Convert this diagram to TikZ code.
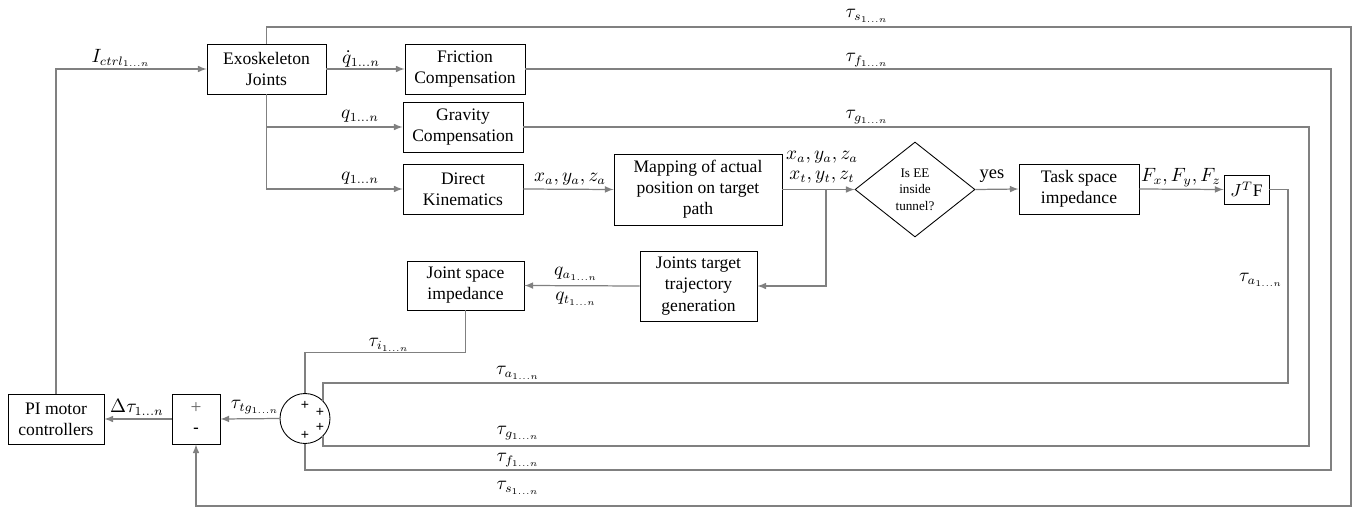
\documentclass[tikz,border=0pt]{standalone}
\usepackage{fontspec}
\setmainfont{Liberation Serif}
\setsansfont{Liberation Sans}
\usetikzlibrary{shapes.geometric}
\tikzset{
  blk/.style={draw, line width=0.5pt, align=center, inner sep=1pt, font=\fontsize{10}{12}\selectfont},
  conn/.style={draw=gray, line width=0.7pt},
  lbl/.style={inner sep=0pt, align=center, font=\fontsize{10.5}{12}\selectfont},
  sgn/.style={inner sep=0pt, font=\sffamily\fontsize{8}{8}\selectfont}
}
\begin{document}
\begin{tikzpicture}[x=0.02cm,y=-0.02cm,>=latex]
\useasboundingbox (0,0) rectangle (1356,507);
\node[blk,minimum width=2.38cm,minimum height=1cm] (exo) at (266.5,69) {Exoskeleton\\Joints};
\node[blk,minimum width=2.4cm,minimum height=1cm] (fric) at (465,69) {Friction\\Compensation};
\node[blk,minimum width=2.4cm,minimum height=1cm] (grav) at (463,127) {Gravity\\Compensation};
\node[blk,minimum width=2.4cm,minimum height=1cm] (dk) at (463,189) {Direct\\Kinematics};
\node[blk,minimum width=3.36cm,minimum height=1.42cm] (map) at (698,189.5) {Mapping of actual\\position on target\\path};
\node[draw,diamond,line width=0.5pt,inner sep=0pt,minimum width=2.4cm,minimum height=1.9cm,align=center,font=\fontsize{7.5}{9.5}\selectfont] (dec) at (915,189.5) {Is EE\\inside\\tunnel?};
\node[blk,minimum width=2.4cm,minimum height=1cm] (task) at (1079,189) {Task space\\impedance};
\node[blk,minimum width=0.9cm,minimum height=0.58cm] (jtf) at (1246.5,189.5) {$J^T$F};
\node[blk,minimum width=2.34cm,minimum height=1.4cm] (jtt) at (698.5,286) {Joints target\\trajectory\\generation};
\node[blk,minimum width=2.34cm,minimum height=0.98cm] (jsi) at (465.5,285.5) {Joint space\\impedance};
\node[draw,circle,line width=0.5pt,minimum size=1cm,inner sep=0pt] (sum) at (305,418.5) {};
\node[blk,minimum width=0.96cm,minimum height=1cm] (sub) at (196,419) {};
\node[blk,minimum width=1.92cm,minimum height=1cm] (pi) at (56,419) {PI motor\\controllers};
\node[sgn] (s1) at (305,405) {+};
\node[sgn] (s2) at (320,412) {+};
\node[sgn] (s3) at (320,427) {+};
\node[sgn] (s4) at (305,435) {+};
\node[inner sep=0pt,text=gray!80!black,font=\fontsize{11}{11}\selectfont] (sp) at (196,408) {+};
\node[sgn,font=\sffamily\fontsize{10}{10}\selectfont] (sm) at (196,431) {-};
\coordinate (br) at (826,189.5);
\coordinate (ra) at (1288,383);
\coordinate (rg) at (1309,446);
\coordinate (rf) at (1331,470);
\coordinate (st) at (1351,27);
\coordinate (sb) at (1351,506);
\draw[conn,->] (pi.north) |- (exo.west);
\draw[conn,->] (exo.east) -- (fric.west);
\draw[conn,->] (exo.south) |- (grav.west);
\draw[conn,->] (exo.south) |- (dk.west);
\draw[conn,->] (dk.east) -- (map.west);
\draw[conn,->] (map.east) -- (dec.west);
\draw[conn,->] (br) |- (jtt.east);
\draw[conn,->] (jtt.west) -- (jsi.east);
\draw[conn,->] (dec.east) -- (task.west);
\draw[conn,->] (task.east) -- (jtf.west);
\draw[conn] (jtf.east) -| (ra) -| (sum.north east);
\draw[conn] (grav.east) -| (rg) -| (sum.south east);
\draw[conn] (fric.east) -| (rf) -| (sum.south);
\draw[conn,->] (exo.north) |- (st) -- (sb) -| (sub.south);
\draw[conn] (jsi.south) -- ++(0,42) -| (sum.north);
\draw[conn,->] (sum.west) -- (sub.east);
\draw[conn,->] (sub.west) -- (pi.east);
\node[lbl] (lic) at (121,58) {$I_{ctrl_{1\ldots n}}$};
\node[lbl] (lqd) at (361,59) {$\dot q_{1\ldots n}$};
\node[lbl] (lqg) at (360,116) {$q_{1\ldots n}$};
\node[lbl] (lqk) at (360,178) {$q_{1\ldots n}$};
\node[lbl] (lxa) at (570,179) {$x_a, y_a, z_a$};
\node[lbl] (lxta) at (822,157) {$x_a, y_a, z_a$};
\node[lbl] (lxtt) at (822,177) {$x_t, y_t, z_t$};
\node[lbl] (lyes) at (992,176) {yes};
\node[lbl] (lF) at (1181,178) {$F_x, F_y, F_z$};
\node[lbl] (lqa) at (576,274) {$q_{a_{1\ldots n}}$};
\node[lbl] (lqt) at (576,299) {$q_{t_{1\ldots n}}$};
\node[lbl] (lts) at (867,16) {$\tau_{s_{1\ldots n}}$};
\node[lbl] (ltf) at (867,60) {$\tau_{f_{1\ldots n}}$};
\node[lbl] (ltg) at (867,117) {$\tau_{g_{1\ldots n}}$};
\node[lbl] (lta) at (1261,280) {$\tau_{a_{1\ldots n}}$};
\node[lbl] (lti) at (389,345) {$\tau_{i_{1\ldots n}}$};
\node[lbl] (lta2) at (518,373) {$\tau_{a_{1\ldots n}}$};
\node[lbl] (ltg2) at (518,433) {$\tau_{g_{1\ldots n}}$};
\node[lbl] (ltf2) at (518,460) {$\tau_{f_{1\ldots n}}$};
\node[lbl] (lts2) at (518,488) {$\tau_{s_{1\ldots n}}$};
\node[lbl] (ltt) at (255,407) {$\tau_{tg_{1\ldots n}}$};
\node[lbl] (ldt) at (137,407) {$\Delta\tau_{1\ldots n}$};
\end{tikzpicture}
\end{document}
